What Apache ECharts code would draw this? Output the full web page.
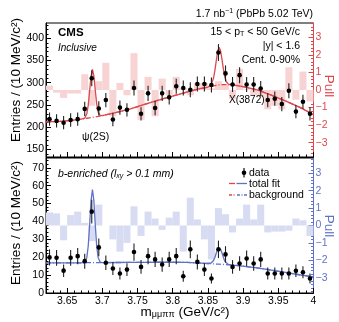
<!DOCTYPE html>
<html><head><meta charset="utf-8">
<script src="https://cdn.jsdelivr.net/npm/echarts@6/dist/echarts.min.js"></script>
<style>html,body{margin:0;padding:0;background:#fff}#c{width:339px;height:322px}</style>
</head><body><div id="c"></div>
<script>
// ---------------- data ----------------
const binWidth = 0.01;
const binCenters = [3.625,3.635,3.645,3.655,3.665,3.675,3.685,3.695,3.705,3.715,3.725,3.735,3.745,3.755,3.765,3.775,3.785,3.795,3.805,3.815,3.825,3.835,3.845,3.855,3.865,3.875,3.885,3.895,3.905,3.915,3.925,3.935,3.945,3.955,3.965,3.975,3.985,3.995];
const topData = [218,214,210,216,218,241,310,242,261,217,244,239,288,230,276,243,276,267,292,288,284,297,297,295,368,321,296,317,296,296,287,261,264,252,282,235,257,230];
const topErr  = [15,15,15,15,15,16,18,16,16,15,16,15,17,15,17,16,17,16,17,17,17,17,17,17,19,18,17,18,17,17,17,16,16,16,17,15,16,15];
const topPull = [0.25,-0.15,-0.45,-0.2,-0.2,0.9,-0.9,0.5,1.55,-1.5,0.4,-0.3,2.1,-1.7,0.75,-1.5,0.65,-0.3,0.75,0.1,-0.3,0.4,0.4,0.1,0.5,0.3,-0.5,1.2,0.05,-0.3,-0.4,-1.1,-0.9,-1.1,1.3,-0.55,1.05,-0.65];
const botData = [19.9,19.7,12.5,19.7,20.6,17.8,45.5,25.5,16.9,13.7,10.9,13.1,22.9,14.6,20.6,18.8,15.9,18.8,20.6,9.4,24.4,17.4,13.1,8.1,24.4,21.6,14.6,16.5,19.3,16.5,18.8,10.9,10.9,10.9,10.9,12.4,11.6,8.1];
const botErr  = [4.5,4.4,3.5,4.4,4.5,4.2,6.7,5.0,4.1,3.7,3.3,3.6,4.8,3.8,4.5,4.3,4.0,4.3,4.5,3.1,4.9,4.2,3.6,2.8,4.9,4.6,3.8,4.1,4.4,4.1,4.3,3.3,3.3,3.3,3.3,3.5,3.4,2.8];
const botPull = [0.75,0.7,-0.85,0.6,0.8,0.15,-0.9,1.2,0.0,-0.8,-1.5,-1.0,1.1,-0.6,0.8,0.4,-0.25,0.45,0.8,-1.5,1.6,0.35,-0.8,-1.95,1.0,0.65,-0.4,0.4,1.2,0.35,1.2,-0.4,-0.35,-0.35,-0.3,0.4,0.3,-0.6];
const fitX   = [3.62,3.64,3.66,3.67,3.675,3.678,3.68,3.682,3.684,3.686,3.688,3.69,3.692,3.694,3.697,3.70,3.72,3.74,3.76,3.78,3.80,3.82,3.84,3.85,3.855,3.858,3.86,3.862,3.864,3.866,3.868,3.87,3.872,3.874,3.876,3.879,3.885,3.90,3.92,3.94,3.96,3.98,4.00];
const topBkg = [212,213,216,218,219,220,220.5,221,221.5,222,222.5,223,223.5,224,225,226,233,241,251,261,270,279,287,290,292,293,293.5,294,294.5,295,295,295.5,295.5,295.5,295.5,295.5,295,291,284,272,259,245,228];
const topFit = [212,213,216,218,220.3,230,249.5,281.5,314.5,330,315.5,283,252.5,234.4,226.3,226,233,241,251,261,270,279,287,290,296.3,310.5,328.5,351,371.5,380,372,352.5,330.5,313,302.7,296.8,295,291,284,272,259,245,228];
const botBkg = [16.8,16.85,16.9,16.9,16.9,16.95,16.95,16.95,16.95,16.95,16.95,16.95,16.95,16.95,16.95,17.0,17.05,17.1,17.15,17.2,17.2,17.1,16.7,16.5,16.4,16.3,16.25,16.2,16.15,16.1,16.05,16.0,15.95,15.9,15.85,15.8,15.6,15.0,14.0,12.8,11.5,10.2,9.0];
const botFit = [16.8,16.85,16.9,16.9,17.2,19.9,26.3,38.2,51.7,57.9,51.7,38.2,26.3,19.9,17.2,17.0,17.05,17.1,17.15,17.2,17.2,17.1,16.7,16.5,16.9,18.2,20.0,22.5,24.6,25.4,24.5,22.4,19.9,17.8,16.7,15.95,15.6,15.0,14.0,12.8,11.5,10.2,9.0];
const xTicks = [3.65,3.70,3.75,3.80,3.85,3.90,3.95,4.00];
const topYTicks = [150,200,250,300,350,400];
const botYTicks = [0,10,20,30,40,50,60,70];
const pullTicks = [-3,-2,-1,0,1,2,3];

// ---------------- style ----------------
const RED = '#e0474c', PINK = '#f8d3d3', BLUE = '#5f72c8', LBLUE = '#d7dcf2';
const FONT = 'Liberation Sans';
const X_MIN = 3.62, X_MAX = 4.0;
const TOP_Y = [132.7, 434.5], BOT_Y = [0, 75.5], TOP_P = [-3.82, 3.82], BOT_P = [-3.88, 3.88];

function range(a, b, s) { const o = []; for (let v = a; v <= b + s / 1000; v += s) o.push(Math.round(v * 1000) / 1000); return o; }
const xMinor = range(3.62, 4.0, 0.01);
const topMinor = range(140, 430, 10);
const botMinor = range(0, 74, 2);
const pullMinor = range(-3.8, 3.8, 0.2);

function axis(base, o) {
  return Object.assign({
    type: 'value', splitLine: {show: false},
    axisLine: {show: !o.minor, onZero: false, lineStyle: {color: o.color || '#000', width: 1}},
    axisTick: {show: true, inside: true, length: o.minor ? 2.5 : 5, customValues: o.ticks, lineStyle: {color: o.color || '#000', width: 1}},
    axisLabel: {show: !!o.labels, customValues: o.ticks, color: o.color || '#000', fontFamily: FONT, fontSize: 10.5, margin: o.margin || 2,
      formatter: o.fmt || (v => String(v))},
  }, base);
}
const fmtX = v => String(+(+v).toFixed(2));
const fmtPull = v => { const n = Math.round(v); return n < 0 ? '\u2212' + (-n) : String(n); };

const xAxes = [
  axis({gridIndex: 0, min: X_MIN, max: X_MAX, position: 'bottom'}, {ticks: xTicks}),
  axis({gridIndex: 0, min: X_MIN, max: X_MAX, position: 'bottom'}, {ticks: xMinor, minor: true}),
  axis({gridIndex: 1, min: X_MIN, max: X_MAX, position: 'bottom'}, {ticks: xTicks, labels: true, fmt: fmtX, margin: 3}),
  axis({gridIndex: 1, min: X_MIN, max: X_MAX, position: 'bottom'}, {ticks: xMinor, minor: true}),
];
const yAxes = [
  axis({gridIndex: 0, min: TOP_Y[0], max: TOP_Y[1], position: 'left'}, {ticks: topYTicks, labels: true}),
  axis({gridIndex: 0, min: TOP_Y[0], max: TOP_Y[1], position: 'left'}, {ticks: topMinor, minor: true}),
  axis({gridIndex: 0, min: TOP_P[0], max: TOP_P[1], position: 'right'}, {ticks: pullTicks, labels: true, color: RED, fmt: fmtPull}),
  axis({gridIndex: 0, min: TOP_P[0], max: TOP_P[1], position: 'right'}, {ticks: pullMinor, minor: true, color: RED}),
  axis({gridIndex: 1, min: BOT_Y[0], max: BOT_Y[1], position: 'left'}, {ticks: botYTicks, labels: true}),
  axis({gridIndex: 1, min: BOT_Y[0], max: BOT_Y[1], position: 'left'}, {ticks: botMinor, minor: true}),
  axis({gridIndex: 1, min: BOT_P[0], max: BOT_P[1], position: 'right'}, {ticks: pullTicks, labels: true, color: BLUE, fmt: fmtPull}),
  axis({gridIndex: 1, min: BOT_P[0], max: BOT_P[1], position: 'right'}, {ticks: pullMinor, minor: true, color: BLUE}),
];

function pullSeries(xi, yi, vals, color) {
  return {type: 'custom', xAxisIndex: xi, yAxisIndex: yi, z: 1, silent: true,
    data: binCenters.map((x, i) => [x, vals[i]]),
    renderItem: (p, api) => {
      const x = api.value(0), v = api.value(1);
      const a = api.coord([x - binWidth / 2, 0]), b = api.coord([x + binWidth / 2, v]);
      return {type: 'rect', shape: {x: a[0], y: Math.min(a[1], b[1]), width: b[0] - a[0], height: Math.abs(b[1] - a[1])}, style: {fill: color}};
    }};
}
function lineSeries(xi, yi, ys, color, dash, z) {
  return {type: 'line', xAxisIndex: xi, yAxisIndex: yi, z: z, silent: true, showSymbol: false, symbol: 'none',
    data: fitX.map((x, i) => [x, ys[i]]), lineStyle: {color: color, width: 1.3, type: dash || 'solid'}};
}
function pointSeries(xi, yi, vals, errs) {
  return {type: 'custom', xAxisIndex: xi, yAxisIndex: yi, z: 5, silent: true,
    data: binCenters.map((x, i) => [x, vals[i], errs[i]]), encode: {x: 0, y: 1},
    renderItem: (p, api) => {
      const x = api.value(0), y = api.value(1), e = api.value(2);
      const c = api.coord([x, y]), lo = api.coord([x, y - e]), hi = api.coord([x, y + e]);
      return {type: 'group', children: [
        {type: 'line', shape: {x1: c[0], y1: lo[1], x2: c[0], y2: hi[1]}, style: {stroke: '#222', lineWidth: 1.1}},
        {type: 'circle', shape: {cx: c[0], cy: c[1], r: 2.3}, style: {fill: '#000'}}]};
    }};
}

const txt = (x, y, text, extra) => ({type: 'text', x: x, y: y, z: 100, silent: true,
  style: Object.assign({text: text, fontFamily: FONT, fontSize: 10.5, fill: '#000', verticalAlign: 'middle', align: 'left'}, extra || {})});
const seg = (x1, y1, x2, y2, color, dash) => ({type: 'line', z: 100, silent: true, shape: {x1, y1, x2, y2}, style: {stroke: color, lineWidth: 1.3, lineDash: dash || null}});

const graphics = [
  txt(58, 33, 'CMS', {fontWeight: 'bold', fontSize: 11.5}),
  txt(58, 48, 'Inclusive', {fontStyle: 'italic', fontSize: 10}),
  txt(313, 14, '1.7 nb{sup|\u22121} (PbPb 5.02 TeV)', {align: 'right', lineHeight: 12, rich: {sup: {fontSize: 7, lineHeight: 5, verticalAlign: 'top', fontFamily: FONT}}}),
  txt(300, 32, '15 < p{sub|T} < 50 GeV/c', {align: 'right', lineHeight: 12, rich: {sub: {fontSize: 7, lineHeight: 4, verticalAlign: 'bottom', fontFamily: FONT}}}),
  txt(300, 46.5, '|y| < 1.6', {align: 'right'}),
  txt(300, 60, 'Cent. 0-90%', {align: 'right'}),
  txt(82, 137, '\u03c8(2S)'),
  txt(229, 100, 'X(3872)', {fontSize: 10}),
  txt(58, 174, 'b-enriched (l{sub|xy} > 0.1 mm)', {fontStyle: 'italic', lineHeight: 12, rich: {sub: {fontSize: 7, lineHeight: 4, verticalAlign: 'bottom', fontStyle: 'italic', fontFamily: FONT}}}),
  // y titles
  {type: 'text', x: 16.5, y: 80, rotation: Math.PI / 2, z: 100, silent: true, style: {text: 'Entries / (10 MeV/c\u00b2)', fontFamily: FONT, fontSize: 13.5, fill: '#000', align: 'center', verticalAlign: 'middle'}},
  {type: 'text', x: 16.5, y: 223, rotation: Math.PI / 2, z: 100, silent: true, style: {text: 'Entries / (10 MeV/c\u00b2)', fontFamily: FONT, fontSize: 13.5, fill: '#000', align: 'center', verticalAlign: 'middle'}},
  {type: 'text', x: 329, y: 86, rotation: -Math.PI / 2, z: 100, silent: true, style: {text: 'Pull', fontFamily: FONT, fontSize: 13.5, fill: RED, align: 'center', verticalAlign: 'middle'}},
  {type: 'text', x: 329, y: 226, rotation: -Math.PI / 2, z: 100, silent: true, style: {text: 'Pull', fontFamily: FONT, fontSize: 13.5, fill: BLUE, align: 'center', verticalAlign: 'middle'}},
  // x title
  txt(185, 312, 'm{sub|\u03bc\u03bc\u03c0\u03c0} (GeV/c\u00b2)', {align: 'center', fontSize: 13.5, lineHeight: 15, rich: {sub: {fontSize: 9, lineHeight: 4, verticalAlign: 'bottom', fontFamily: FONT}}}),
  // legend
  seg(244, 168, 244, 177.5, '#222'),
  {type: 'circle', z: 100, silent: true, shape: {cx: 244, cy: 172.7, r: 2.3}, style: {fill: '#000'}},
  txt(249, 173, 'data'),
  seg(229, 183.5, 235, 183.5, RED),
  seg(236.5, 183.5, 247, 183.5, BLUE),
  txt(249, 184, 'total fit'),
  seg(229, 195, 236, 195, RED, [3, 1.5, 1, 1.5]),
  seg(237, 195, 247, 195, BLUE, [3, 1.5, 1, 1.5]),
  txt(249, 195, 'background'),
];

const chart = echarts.init(document.getElementById('c'), null, {renderer: 'canvas'});
chart.setOption({
  animation: false,
  backgroundColor: '#fff',
  grid: [
    {left: 46, top: 23, width: 267.5, height: 134, show: true, borderColor: '#000', borderWidth: 1, backgroundColor: 'transparent'},
    {left: 46, top: 158, width: 267.5, height: 135, show: true, borderColor: '#000', borderWidth: 1, backgroundColor: 'transparent'},
  ],
  xAxis: xAxes,
  yAxis: yAxes,
  series: [
    pullSeries(0, 2, topPull, PINK),
    lineSeries(0, 0, topBkg, RED, [5, 2, 1, 2], 2),
    lineSeries(0, 0, topFit, RED, 'solid', 3),
    pointSeries(0, 0, topData, topErr),
    pullSeries(2, 6, botPull, LBLUE),
    lineSeries(2, 4, botBkg, BLUE, [5, 2, 1, 2], 2),
    lineSeries(2, 4, botFit, BLUE, 'solid', 3),
    pointSeries(2, 4, botData, botErr),
  ],
  graphic: graphics,
});
</script></body></html>
